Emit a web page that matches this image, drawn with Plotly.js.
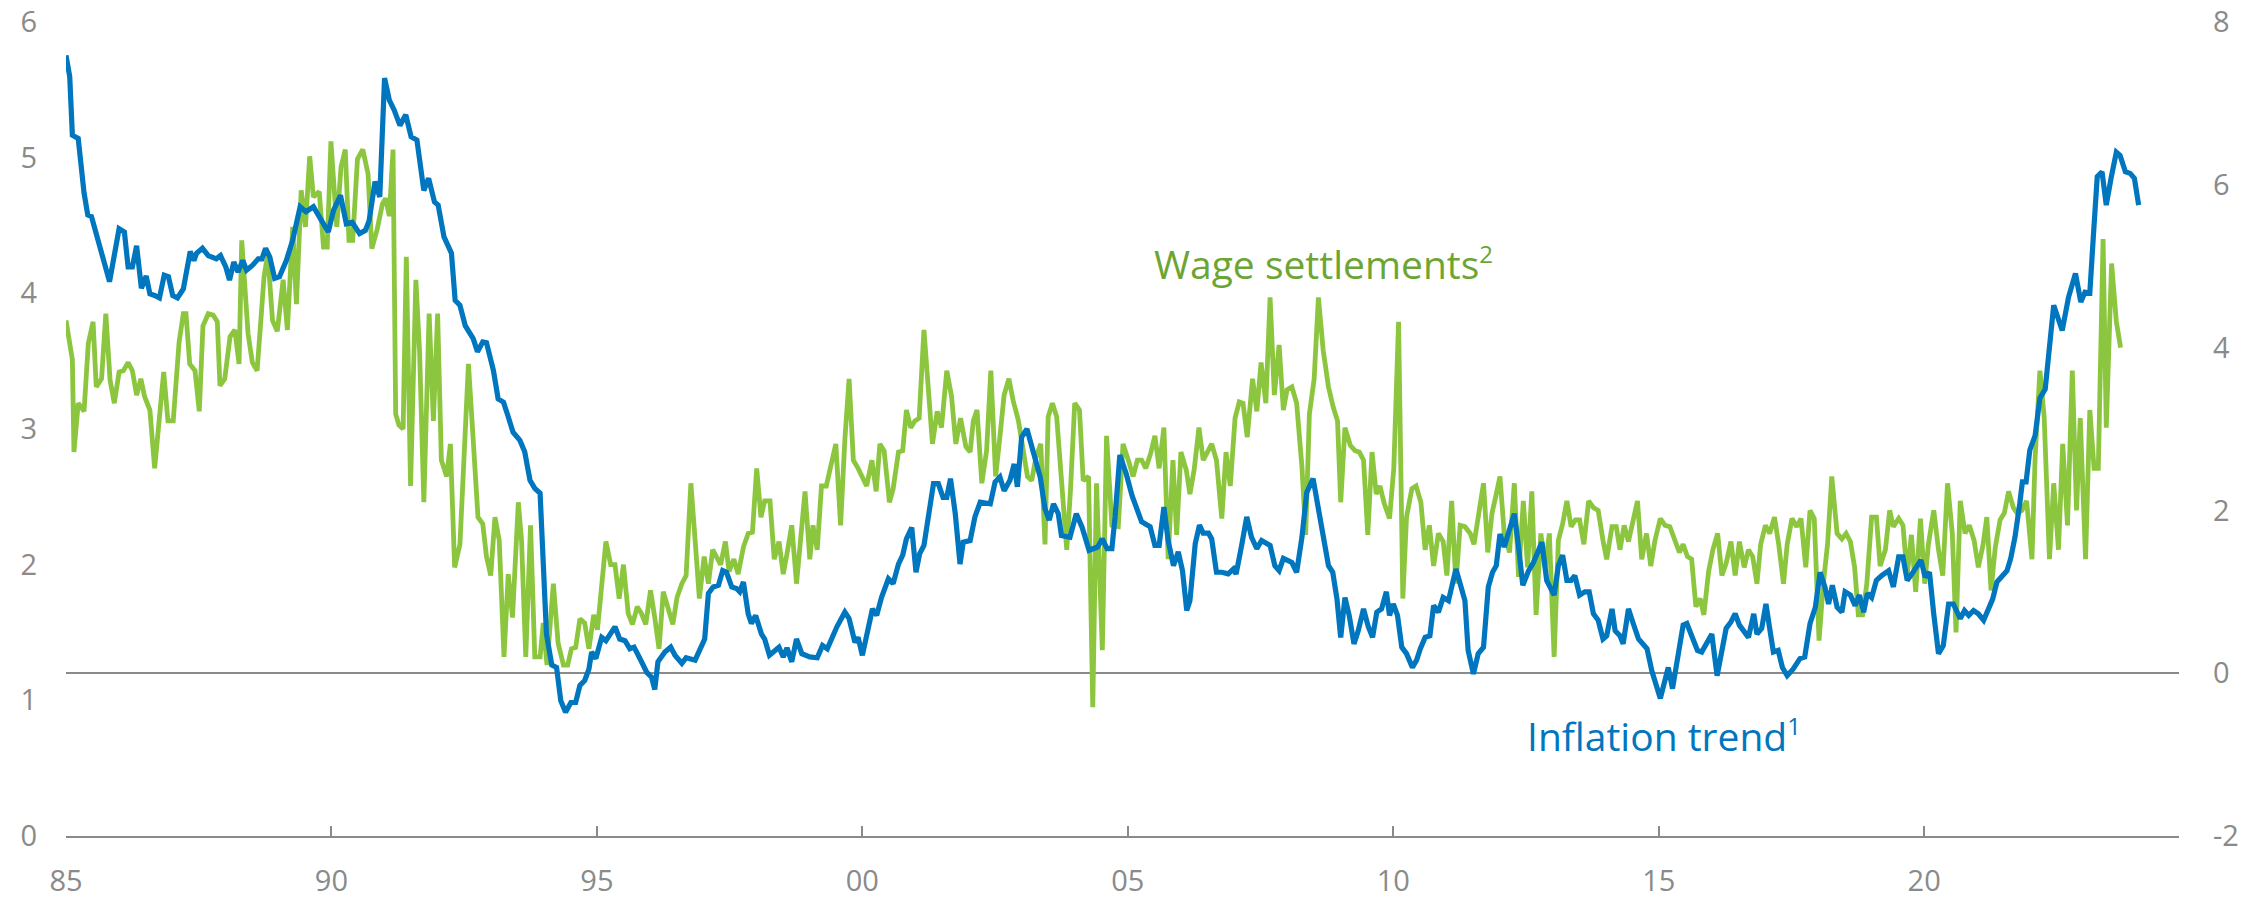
<!DOCTYPE html>
<html>
<head>
<meta charset="utf-8">
<script src="https://cdn.plot.ly/plotly-3.0.1.min.js"></script>
<style>html,body{margin:0;padding:0;background:#fff;}#chart{width:2267px;height:899px;}</style>
</head>
<body>
<div id="chart"></div>
<script>
// Inflation trend (right axis), decimal years
const inflationYears = [1985.00,1985.07,1985.12,1985.23,1985.34,1985.41,1985.48,1985.66,1985.82,1986.00,1986.10,1986.17,1986.25,1986.33,1986.42,1986.51,1986.58,1986.67,1986.76,1986.85,1986.93,1987.01,1987.10,1987.21,1987.34,1987.41,1987.46,1987.57,1987.68,1987.83,1987.91,1988.01,1988.08,1988.16,1988.24,1988.33,1988.40,1988.51,1988.62,1988.69,1988.76,1988.84,1988.93,1989.02,1989.15,1989.27,1989.41,1989.52,1989.66,1989.77,1989.94,1990.04,1990.17,1990.28,1990.39,1990.53,1990.64,1990.71,1990.82,1990.91,1991.00,1991.09,1991.18,1991.29,1991.40,1991.50,1991.61,1991.74,1991.83,1991.94,1992.01,1992.12,1992.26,1992.33,1992.42,1992.52,1992.67,1992.75,1992.85,1992.92,1993.05,1993.14,1993.24,1993.33,1993.42,1993.55,1993.64,1993.74,1993.83,1993.93,1993.99,1994.05,1994.15,1994.24,1994.32,1994.41,1994.51,1994.60,1994.68,1994.77,1994.85,1994.90,1994.98,1995.09,1995.17,1995.34,1995.43,1995.53,1995.62,1995.70,1995.81,1995.94,1996.03,1996.09,1996.15,1996.28,1996.39,1996.47,1996.60,1996.68,1996.85,1996.94,1997.03,1997.10,1997.19,1997.29,1997.37,1997.44,1997.54,1997.63,1997.69,1997.76,1997.85,1997.91,1997.99,1998.10,1998.16,1998.25,1998.33,1998.43,1998.51,1998.58,1998.67,1998.76,1998.86,1999.01,1999.15,1999.25,1999.34,1999.52,1999.67,1999.75,1999.86,1999.92,2000.00,2000.11,2000.19,2000.27,2000.36,2000.49,2000.58,2000.68,2000.76,2000.83,2000.93,2001.01,2001.08,2001.16,2001.24,2001.34,2001.43,2001.52,2001.59,2001.66,2001.75,2001.84,2001.90,2002.03,2002.12,2002.22,2002.41,2002.50,2002.59,2002.67,2002.78,2002.86,2002.92,2003.00,2003.10,2003.19,2003.35,2003.44,2003.52,2003.60,2003.69,2003.75,2003.91,2004.03,2004.14,2004.27,2004.43,2004.52,2004.61,2004.70,2004.76,2004.85,2004.97,2005.08,2005.17,2005.26,2005.42,2005.51,2005.59,2005.68,2005.76,2005.86,2005.95,2006.03,2006.11,2006.17,2006.27,2006.35,2006.42,2006.52,2006.58,2006.67,2006.77,2006.89,2006.99,2007.04,2007.15,2007.24,2007.33,2007.43,2007.52,2007.68,2007.77,2007.85,2007.93,2008.09,2008.18,2008.28,2008.37,2008.49,2008.59,2008.70,2008.78,2008.86,2008.94,2009.01,2009.09,2009.17,2009.26,2009.34,2009.44,2009.53,2009.61,2009.69,2009.78,2009.87,2009.93,2010.00,2010.08,2010.16,2010.25,2010.36,2010.44,2010.51,2010.60,2010.69,2010.76,2010.85,2010.94,2011.04,2011.18,2011.26,2011.35,2011.41,2011.51,2011.60,2011.70,2011.79,2011.87,2011.94,2012.01,2012.09,2012.17,2012.28,2012.36,2012.44,2012.55,2012.64,2012.80,2012.89,2013.03,2013.11,2013.19,2013.27,2013.35,2013.42,2013.51,2013.61,2013.69,2013.77,2013.86,2013.95,2014.02,2014.12,2014.18,2014.27,2014.33,2014.43,2014.52,2014.62,2014.78,2014.87,2015.03,2015.12,2015.18,2015.26,2015.37,2015.46,2015.53,2015.62,2015.73,2015.81,2015.92,2016.00,2016.10,2016.19,2016.27,2016.36,2016.44,2016.52,2016.60,2016.69,2016.79,2016.85,2016.94,2017.02,2017.09,2017.16,2017.25,2017.33,2017.42,2017.53,2017.66,2017.75,2017.85,2017.95,2018.04,2018.13,2018.20,2018.27,2018.36,2018.45,2018.51,2018.61,2018.70,2018.78,2018.86,2018.93,2019.01,2019.10,2019.20,2019.33,2019.42,2019.52,2019.60,2019.68,2019.79,2019.86,2019.94,2020.02,2020.10,2020.18,2020.27,2020.36,2020.46,2020.55,2020.68,2020.76,2020.84,2020.93,2021.02,2021.12,2021.21,2021.29,2021.37,2021.46,2021.56,2021.63,2021.71,2021.80,2021.85,2021.92,2021.99,2022.09,2022.18,2022.28,2022.44,2022.60,2022.72,2022.85,2022.95,2023.03,2023.12,2023.19,2023.26,2023.35,2023.43,2023.52,2023.62,2023.69,2023.79,2023.88,2023.96,2024.04];
const inflationValues = [7.59,7.33,6.61,6.57,5.90,5.63,5.61,5.20,4.81,5.46,5.42,4.99,4.99,5.25,4.73,4.88,4.66,4.64,4.61,4.89,4.87,4.64,4.61,4.72,5.18,5.07,5.16,5.22,5.13,5.09,5.13,4.99,4.83,5.05,4.93,5.07,4.95,5.01,5.09,5.09,5.22,5.11,4.85,4.87,5.07,5.32,5.73,5.67,5.73,5.61,5.42,5.69,5.87,5.52,5.54,5.40,5.44,5.56,6.04,5.85,7.31,7.04,6.92,6.73,6.86,6.59,6.55,5.93,6.08,5.79,5.75,5.36,5.16,4.58,4.52,4.27,4.11,3.95,4.07,4.06,3.72,3.37,3.33,3.15,2.96,2.86,2.72,2.37,2.27,2.21,1.30,0.48,0.10,0.07,-0.34,-0.48,-0.36,-0.36,-0.15,-0.09,0.05,0.26,0.18,0.44,0.40,0.57,0.42,0.40,0.30,0.32,0.18,0.01,-0.05,-0.20,0.14,0.26,0.32,0.22,0.12,0.19,0.16,0.30,0.42,0.98,1.06,1.08,1.26,1.24,1.06,1.04,1.00,1.12,0.73,0.61,0.71,0.48,0.42,0.22,0.26,0.32,0.20,0.31,0.14,0.42,0.24,0.20,0.19,0.34,0.30,0.57,0.75,0.67,0.38,0.44,0.22,0.59,0.79,0.71,0.93,1.16,1.10,1.34,1.45,1.65,1.79,1.24,1.47,1.57,1.92,2.33,2.33,2.16,2.16,2.39,1.96,1.34,1.61,1.63,1.92,2.10,2.08,2.35,2.41,2.24,2.37,2.57,2.29,2.90,3.00,2.78,2.41,2.02,1.88,2.08,1.96,1.69,1.67,1.96,1.79,1.51,1.55,1.65,1.53,1.53,1.92,2.68,2.45,2.18,2.04,1.86,1.80,1.57,1.57,2.04,1.63,1.32,1.49,1.26,0.77,0.89,1.59,1.82,1.72,1.72,1.65,1.24,1.24,1.22,1.28,1.22,1.59,1.92,1.67,1.53,1.63,1.57,1.32,1.26,1.41,1.36,1.24,1.67,2.22,2.39,2.02,1.59,1.32,1.24,0.91,0.44,0.93,0.71,0.36,0.52,0.79,0.57,0.44,0.75,0.79,1.00,0.71,0.85,0.71,0.32,0.24,0.07,0.16,0.30,0.44,0.46,0.83,0.75,0.93,0.89,1.28,1.10,0.89,0.28,-0.01,0.24,0.32,1.06,1.24,1.32,1.71,1.55,1.73,1.96,1.55,1.08,1.26,1.36,1.61,1.14,0.96,1.32,1.45,1.14,1.14,1.20,0.96,1.00,1.00,0.73,0.65,0.42,0.46,0.79,0.52,0.46,0.36,0.79,0.61,0.42,0.30,0.03,-0.31,-0.07,0.07,-0.19,0.28,0.59,0.61,0.46,0.28,0.26,0.38,0.48,-0.03,0.26,0.55,0.63,0.73,0.59,0.52,0.44,0.73,0.48,0.55,0.85,0.55,0.26,0.28,0.07,-0.03,0.05,0.18,0.20,0.61,0.81,1.24,1.06,0.85,1.08,0.81,0.75,1.00,0.96,0.83,0.96,0.75,0.98,0.93,1.14,1.20,1.26,1.06,1.43,1.43,1.14,1.24,1.32,1.39,1.18,1.24,0.73,0.24,0.34,0.85,0.85,0.67,0.77,0.71,0.77,0.73,0.65,0.77,0.91,1.12,1.18,1.26,1.41,1.67,2.08,2.35,2.35,2.74,2.92,3.38,3.49,4.52,4.21,4.62,4.91,4.56,4.68,4.67,5.40,6.10,6.16,5.75,6.08,6.40,6.36,6.16,6.14,6.08,5.75];

// Wage settlements (left axis), decimal years
const wageYears = [1985.00,1985.12,1985.15,1985.23,1985.34,1985.42,1985.51,1985.57,1985.67,1985.75,1985.83,1985.91,1986.00,1986.08,1986.17,1986.25,1986.33,1986.41,1986.48,1986.58,1986.67,1986.77,1986.84,1986.92,1987.02,1987.13,1987.21,1987.26,1987.33,1987.43,1987.51,1987.58,1987.68,1987.77,1987.85,1987.90,1987.99,1988.09,1988.18,1988.26,1988.31,1988.43,1988.51,1988.60,1988.73,1988.80,1988.89,1988.98,1989.09,1989.17,1989.27,1989.34,1989.43,1989.51,1989.59,1989.66,1989.77,1989.85,1989.92,1989.99,1990.10,1990.18,1990.26,1990.33,1990.40,1990.49,1990.59,1990.69,1990.76,1990.86,1990.96,1991.02,1991.09,1991.16,1991.21,1991.27,1991.35,1991.41,1991.49,1991.59,1991.66,1991.74,1991.84,1991.92,1992.00,1992.07,1992.17,1992.24,1992.32,1992.42,1992.49,1992.58,1992.67,1992.76,1992.85,1992.92,1993.00,1993.08,1993.16,1993.25,1993.33,1993.41,1993.52,1993.58,1993.66,1993.75,1993.83,1993.93,1993.99,1994.06,1994.18,1994.27,1994.37,1994.45,1994.52,1994.60,1994.68,1994.77,1994.85,1994.94,1995.01,1995.09,1995.17,1995.26,1995.34,1995.42,1995.50,1995.59,1995.67,1995.76,1995.84,1995.92,1996.01,1996.09,1996.17,1996.25,1996.34,1996.43,1996.51,1996.60,1996.68,1996.77,1996.85,1996.93,1997.02,1997.10,1997.18,1997.26,1997.33,1997.42,1997.49,1997.58,1997.66,1997.76,1997.85,1997.93,1998.01,1998.09,1998.16,1998.26,1998.34,1998.43,1998.51,1998.58,1998.67,1998.76,1998.84,1998.92,1999.01,1999.07,1999.15,1999.23,1999.32,1999.40,1999.50,1999.59,1999.67,1999.75,1999.83,1999.92,2000.00,2000.08,2000.18,2000.26,2000.33,2000.41,2000.51,2000.58,2000.68,2000.76,2000.83,2000.91,2000.99,2001.07,2001.16,2001.24,2001.32,2001.41,2001.49,2001.59,2001.68,2001.76,2001.85,2001.95,2002.03,2002.09,2002.16,2002.25,2002.34,2002.42,2002.51,2002.59,2002.67,2002.76,2002.84,2002.94,2003.02,2003.11,2003.19,2003.27,2003.36,2003.44,2003.50,2003.58,2003.66,2003.75,2003.85,2003.92,2004.00,2004.09,2004.16,2004.26,2004.34,2004.41,2004.52,2004.60,2004.70,2004.82,2004.91,2005.01,2005.10,2005.18,2005.26,2005.34,2005.43,2005.51,2005.59,2005.68,2005.76,2005.85,2005.92,2006.00,2006.10,2006.17,2006.25,2006.34,2006.42,2006.50,2006.58,2006.67,2006.77,2006.85,2006.93,2007.02,2007.10,2007.17,2007.25,2007.35,2007.43,2007.51,2007.60,2007.68,2007.76,2007.85,2007.93,2008.00,2008.09,2008.18,2008.28,2008.35,2008.42,2008.51,2008.59,2008.68,2008.78,2008.87,2008.95,2009.01,2009.09,2009.19,2009.28,2009.36,2009.44,2009.52,2009.60,2009.68,2009.75,2009.83,2009.93,2010.01,2010.10,2010.18,2010.25,2010.35,2010.43,2010.52,2010.60,2010.68,2010.76,2010.85,2010.94,2011.01,2011.10,2011.18,2011.26,2011.35,2011.45,2011.52,2011.61,2011.70,2011.78,2011.86,2011.94,2012.01,2012.09,2012.19,2012.28,2012.36,2012.45,2012.53,2012.61,2012.69,2012.78,2012.86,2012.94,2013.03,2013.11,2013.19,2013.27,2013.35,2013.43,2013.51,2013.59,2013.68,2013.77,2013.86,2013.95,2014.02,2014.12,2014.20,2014.27,2014.35,2014.43,2014.51,2014.60,2014.68,2014.77,2014.85,2014.93,2015.03,2015.12,2015.21,2015.31,2015.39,2015.46,2015.54,2015.62,2015.70,2015.78,2015.85,2015.94,2016.02,2016.11,2016.19,2016.27,2016.36,2016.44,2016.52,2016.61,2016.69,2016.77,2016.85,2016.92,2017.01,2017.09,2017.18,2017.26,2017.35,2017.42,2017.51,2017.60,2017.68,2017.77,2017.85,2017.93,2018.02,2018.10,2018.18,2018.26,2018.36,2018.45,2018.53,2018.61,2018.69,2018.76,2018.84,2018.92,2019.01,2019.10,2019.17,2019.27,2019.35,2019.42,2019.52,2019.60,2019.68,2019.76,2019.84,2019.93,2020.01,2020.08,2020.18,2020.27,2020.35,2020.44,2020.53,2020.60,2020.68,2020.77,2020.85,2020.94,2021.02,2021.11,2021.18,2021.26,2021.34,2021.43,2021.51,2021.59,2021.68,2021.75,2021.84,2021.93,2022.03,2022.09,2022.18,2022.26,2022.36,2022.44,2022.53,2022.61,2022.70,2022.79,2022.87,2022.94,2023.04,2023.12,2023.20,2023.28,2023.37,2023.43,2023.53,2023.62,2023.70];
const wageValues = [3.80,3.51,2.83,3.19,3.13,3.63,3.79,3.31,3.37,3.85,3.36,3.19,3.42,3.43,3.49,3.43,3.25,3.37,3.24,3.14,2.71,3.09,3.42,3.06,3.06,3.64,3.85,3.85,3.48,3.43,3.13,3.76,3.85,3.84,3.79,3.32,3.37,3.68,3.73,3.48,4.39,3.70,3.49,3.43,4.12,4.29,3.80,3.72,4.10,3.73,4.49,3.92,4.76,4.49,5.01,4.71,4.75,4.34,4.34,5.12,4.49,4.93,5.06,4.39,4.39,4.99,5.06,4.88,4.33,4.47,4.66,4.70,4.57,5.06,3.11,3.03,3.00,4.27,2.58,4.10,3.57,2.46,3.85,3.06,3.85,2.77,2.65,2.89,1.98,2.15,2.75,3.48,2.92,2.35,2.30,2.06,1.92,2.35,2.18,1.32,1.93,1.61,2.46,2.18,1.32,2.29,1.32,1.32,1.57,1.26,1.86,1.42,1.26,1.26,1.38,1.39,1.60,1.57,1.38,1.63,1.52,1.84,2.17,2.00,2.00,1.75,2.00,1.64,1.56,1.69,1.64,1.56,1.81,1.61,1.38,1.80,1.68,1.56,1.76,1.86,1.92,2.60,2.18,1.75,2.06,1.86,2.11,2.06,2.00,2.17,1.95,2.04,1.93,2.13,2.23,2.24,2.71,2.35,2.47,2.47,2.04,2.17,1.93,2.08,2.29,1.86,2.17,2.54,2.04,2.29,2.11,2.58,2.58,2.72,2.89,2.29,2.92,3.37,2.77,2.71,2.65,2.58,2.77,2.54,2.89,2.84,2.46,2.56,2.83,2.84,3.14,3.01,3.06,3.08,3.73,3.29,2.89,3.13,3.01,3.43,3.24,2.89,3.08,2.87,2.83,3.06,3.14,2.60,2.84,3.43,2.65,2.94,3.25,3.37,3.21,3.06,2.84,2.65,2.62,2.79,2.89,2.15,3.09,3.19,3.09,2.60,2.11,2.55,3.19,3.14,2.62,2.65,0.95,2.60,1.37,2.95,2.29,2.28,2.89,2.77,2.65,2.77,2.77,2.71,2.82,2.95,2.71,3.01,2.04,2.77,2.22,2.83,2.70,2.52,2.70,3.01,2.77,2.83,2.89,2.77,2.34,2.83,2.58,3.08,3.20,3.19,2.94,3.37,3.13,3.49,3.19,3.97,3.25,3.62,3.14,3.29,3.31,3.19,2.72,2.22,3.11,3.37,3.97,3.58,3.31,3.16,3.06,2.46,3.01,2.88,2.84,2.83,2.77,2.22,2.83,2.52,2.58,2.45,2.34,2.71,3.79,1.75,2.35,2.56,2.58,2.46,2.11,2.29,1.99,2.23,2.17,1.92,2.47,1.86,2.29,2.28,2.23,2.15,2.35,2.60,2.09,2.38,2.52,2.65,2.23,2.09,2.60,1.91,2.47,1.98,2.54,1.63,2.23,1.98,2.23,1.32,2.18,2.30,2.47,2.28,2.33,2.33,2.15,2.47,2.42,2.40,2.18,2.04,2.28,2.28,2.11,2.29,2.17,2.33,2.47,2.04,2.23,1.99,2.18,2.34,2.29,2.28,2.18,2.09,2.15,2.06,2.04,1.69,1.75,1.63,1.95,2.11,2.23,1.92,2.01,2.17,1.92,2.17,1.98,2.11,2.06,1.86,2.15,2.29,2.23,2.35,2.15,1.86,2.15,2.34,2.28,2.34,1.98,2.40,2.34,1.44,1.86,2.15,2.65,2.23,2.19,2.23,2.17,1.98,1.63,1.63,1.86,2.35,2.35,1.99,2.11,2.40,2.28,2.34,2.29,1.92,2.22,1.80,2.34,1.86,2.15,2.40,2.11,1.92,2.60,2.23,1.50,2.47,2.23,2.29,2.18,1.98,2.15,2.35,1.81,2.13,2.33,2.38,2.54,2.42,2.38,2.40,2.47,2.04,2.79,3.43,3.09,2.04,2.60,2.11,2.89,2.29,3.43,2.40,3.08,2.04,3.14,2.71,2.71,4.40,3.01,4.22,3.79,3.60];

const tickYears = [1985,1990,1995,2000,2005,2010,2015,2020];
const tickLabels = ['85','90','95','00','05','10','15','20'];
const leftTicks = [0,1,2,3,4,5,6];
const leftLabels = ['0','1','2','3','4','5','6'];
const rightTicks = [-2,0,2,4,6,8];
const rightLabels = ['-2','0','2','4','6','8'];

const GREEN = '#8cc63f', BLUE = '#0076bf', GRAY = '#8a8a8a';
const FONT = 'Open Sans, Noto Sans, sans-serif';

const traces = [
  {x: wageYears, y: wageValues, type: 'scatter', mode: 'lines', yaxis: 'y',
   line: {color: GREEN, width: 4.8}, hoverinfo: 'skip', name: 'Wage settlements'},
  {x: inflationYears, y: inflationValues, type: 'scatter', mode: 'lines', yaxis: 'y2',
   line: {color: BLUE, width: 5.2}, hoverinfo: 'skip', name: 'Inflation trend'}
];

const layout = {
  width: 2267, height: 899,
  margin: {l: 66, r: 88, t: 22, b: 63, pad: 0},
  paper_bgcolor: '#fff', plot_bgcolor: '#fff',
  showlegend: false,
  font: {family: FONT, color: GRAY, size: 29},
  xaxis: {
    range: [1985, 2024.8], showgrid: false, zeroline: false,
    showline: true, linecolor: GRAY, linewidth: 2,
    ticks: 'inside', ticklen: 10, tickwidth: 2, tickcolor: GRAY,
    tickvals: tickYears, ticktext: tickLabels,
    tickfont: {family: FONT, size: 29, color: GRAY},
    ticklabelstandoff: 18
  },
  yaxis: {
    range: [0, 6], showgrid: false, zeroline: false, showline: false,
    tickvals: leftTicks, ticktext: leftLabels, ticks: '',
    tickfont: {family: FONT, size: 29, color: GRAY},
    ticklabelstandoff: 28
  },
  yaxis2: {
    range: [-2, 8], overlaying: 'y', side: 'right', showgrid: false,
    zeroline: true, zerolinecolor: GRAY, zerolinewidth: 2, showline: false,
    tickvals: rightTicks, ticktext: rightLabels, ticks: '',
    tickfont: {family: FONT, size: 29, color: GRAY},
    ticklabelstandoff: 33
  },
  annotations: [
    {x: 2005.46, y: 4.22, xref: 'x', yref: 'y', xanchor: 'left', yanchor: 'middle',
     text: 'Wage settlements<sup><span style="font-size:24px">2</span></sup>', showarrow: false,
     font: {family: FONT, size: 39, color: '#6da534'}},
    {x: 2012.48, y: 0.74, xref: 'x', yref: 'y', xanchor: 'left', yanchor: 'middle',
     text: 'Inflation trend<sup><span style="font-size:24px">1</span></sup>', showarrow: false,
     font: {family: FONT, size: 39, color: BLUE}}
  ]
};

Plotly.newPlot('chart', traces, layout, {displayModeBar: false, staticPlot: true});
</script>
</body>
</html>
